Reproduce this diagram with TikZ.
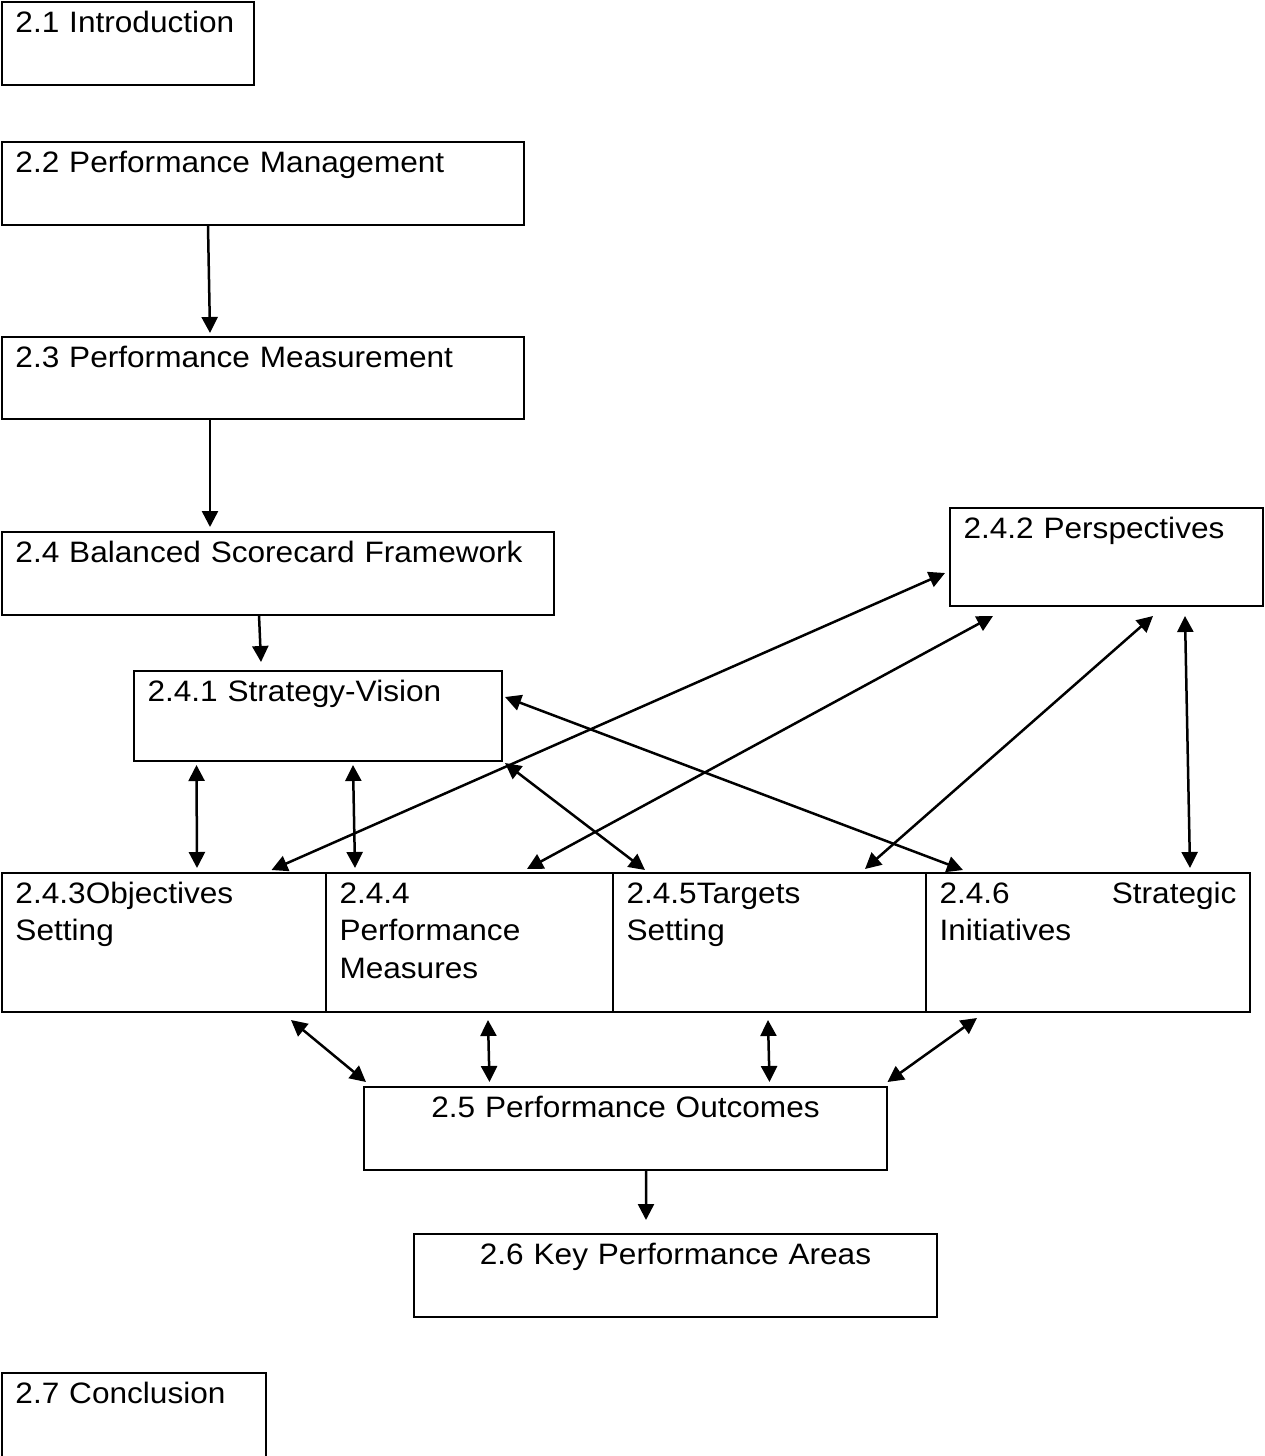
\documentclass[tikz,border=0pt]{standalone}
\usepackage{fontspec}
\setmainfont{Liberation Sans}[FakeStretch=1.07]
\usetikzlibrary{positioning,arrows.meta}
\tikzset{
    >={Triangle[length=0.32cm,width=0.32cm]},
    link/.style={draw,->,line width=0.05cm},
    twoway/.style={draw,<->,line width=0.05cm}
}

\begin{document}
\begin{tikzpicture}[box/.style={draw,line width=0.05cm,anchor=north west,
                        outer sep=0pt,inner xsep=0.27cm,inner ysep=0pt,
                        align=left,text height=0.60cm,
                        font=\fontsize{16.8pt}{21.5pt}\selectfont}]
\useasboundingbox (0,0) rectangle (25.28cm,-29.12cm);

% Chapter sections
\node[box,text width=4.50cm,text depth=1.06cm] (intro) at (0.04cm,-0.04cm) {2.1 Introduction};
\node[box,text width=9.90cm,text depth=1.06cm] (pm) at (0.04cm,-2.84cm) {2.2 Performance Management};
\node[box,text width=9.90cm,text depth=1.04cm] (pmeas) at (0.04cm,-6.74cm) {2.3 Performance Measurement};
\node[box,text width=10.50cm,text depth=1.06cm] (bsc) at (0.04cm,-10.64cm) {2.4 Balanced Scorecard Framework};
\node[box,text width=6.82cm,text depth=1.20cm] (sv) at (2.68cm,-13.42cm) {2.4.1 Strategy-Vision};
\node[box,text width=5.72cm,text depth=1.36cm] (persp) at (19.00cm,-10.16cm) {2.4.2 Perspectives};

% Scorecard row
\node[box,text width=5.94cm,text depth=2.18cm] (obj) at (0.04cm,-17.46cm) {2.4.3Objectives\\Setting};
\node[box,text width=5.20cm,text depth=2.18cm,right=0pt of obj] (meas) {2.4.4\\Performance\\Measures};
\node[box,text width=5.72cm,text depth=2.18cm,right=0pt of meas] (targ) {2.4.5Targets\\Setting};
\node[box,text width=5.94cm,text depth=2.18cm,right=0pt of targ] (init) {2.4.6\hfill Strategic\\Initiatives};

\node[box,align=center,text width=9.92cm,text depth=1.06cm] (outc) at (7.28cm,-21.74cm) {2.5 Performance Outcomes};
\node[box,align=center,text width=9.92cm,text depth=1.06cm] (kpa) at (8.28cm,-24.68cm) {2.6 Key Performance Areas};
\node[box,text width=4.74cm,text depth=1.30cm] (concl) at (0.04cm,-27.46cm) {2.7 Conclusion};

% Flow down
\path ([shift={(4.12cm,-0.02cm)}]pm.south west) edge[link] ([shift={(4.16cm,0.08cm)}]pmeas.north west);
\path ([shift={(4.16cm,-0.02cm)}]pmeas.south west) edge[link] ([shift={(4.16cm,0.10cm)}]bsc.north west);
\path ([shift={(5.14cm,0cm)}]bsc.south west) edge[link] ([shift={(2.54cm,0.18cm)}]sv.north west);

% Strategy-Vision and Perspectives links
\path ([shift={(1.25cm,-0.08cm)}]sv.south west) edge[twoway] ([shift={(3.90cm,0.10cm)}]obj.north west);
\path ([shift={(4.38cm,-0.08cm)}]sv.south west) edge[twoway] ([shift={(0.58cm,0.10cm)}]meas.north west);
\path ([shift={(5.39cm,0.06cm)}]obj.north west) edge[twoway] ([shift={(-0.10cm,-1.30cm)}]persp.north west);
\path ([shift={(4.02cm,0.08cm)}]meas.north west) edge[twoway] ([shift={(0.86cm,-0.20cm)}]persp.south west);
\path ([shift={(5.04cm,0.08cm)}]targ.north west) edge[twoway] ([shift={(4.06cm,-0.20cm)}]persp.south west);
\path ([shift={(4.70cm,-0.20cm)}]persp.south west) edge[twoway] ([shift={(5.28cm,0.10cm)}]init.north west);
\path ([shift={(0.06cm,-0.52cm)}]sv.north east) edge[twoway] ([shift={(0.74cm,0.06cm)}]init.north west);
\path ([shift={(0.06cm,-0.04cm)}]sv.south east) edge[twoway] ([shift={(0.64cm,0.06cm)}]targ.north west);

% Outcomes
\path ([shift={(5.78cm,-0.16cm)}]obj.south west) edge[twoway] ([shift={(0.04cm,0.10cm)}]outc.north west);
\path ([shift={(3.24cm,-0.16cm)}]meas.south west) edge[twoway] ([shift={(2.51cm,0.10cm)}]outc.north west);
\path ([shift={(3.10cm,-0.16cm)}]targ.south west) edge[twoway] ([shift={(8.11cm,0.10cm)}]outc.north west);
\path ([shift={(1.02cm,-0.12cm)}]init.south west) edge[twoway] ([shift={(0.01cm,0.10cm)}]outc.north east);
\path ([shift={(5.64cm,0cm)}]outc.south west) edge[link] ([shift={(4.64cm,0.28cm)}]kpa.north west);

\end{tikzpicture}
\end{document}
